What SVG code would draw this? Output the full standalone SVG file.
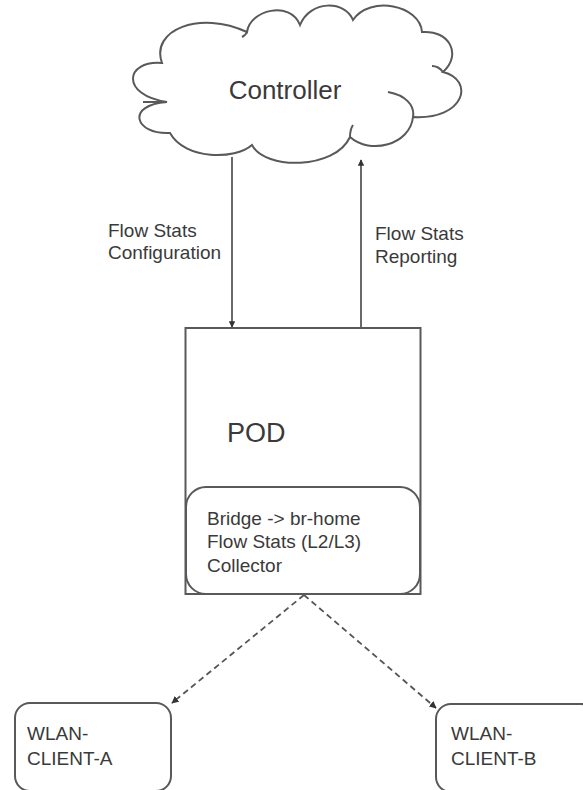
<svg xmlns="http://www.w3.org/2000/svg" width="583" height="790" viewBox="0 0 583 790">
<style>
.shape{fill:#fff;stroke:#595959;stroke-width:2}
.line{fill:none;stroke:#444;stroke-width:1.6}
.dash{fill:none;stroke:#555;stroke-width:1.8;stroke-dasharray:6 4}
.t{font-family:"Liberation Sans",Arial,sans-serif;fill:#3a3a3a;font-size:19px}
</style>
<defs>
<marker id="ah" viewBox="0 0 10 10" refX="9" refY="5" markerWidth="4" markerHeight="4" orient="auto" markerUnits="strokeWidth">
<path d="M0,0 L10,5 L0,10 z" fill="#333"/>
</marker>
</defs>
<rect width="583" height="790" fill="#fff"/>
<g id="controller">
<path class="shape" d="M 162,63 C 150,30 200,10 247,32 C 250,10 290,0 300,25 C 310,0 345,0 353,20 C 370,-5 420,5 422,32 C 450,30 462,55 443,72 C 475,80 465,120 413,117 C 410,145 370,155 350,137 C 335,170 265,170 252,145 C 235,160 185,160 170,133 C 135,135 125,105 167,102 C 120,95 125,60 162,63 Z"/>
<path class="shape" style="fill:none" d="M 388,92 C 405,95 415,105 413,117 M 143,102 L 167,102 M 443,72 C 440,68 436,66 432,66 M 350,137 C 350,132 351,128 353,125 M 247,32 C 246,35 244,36 242,37"/>
<text class="t" x="285" y="99" text-anchor="middle" style="font-size:26px">Controller</text>
</g>
<g id="pod">
<rect class="shape" x="185.5" y="328" width="235" height="266"/>
<rect class="shape" x="186" y="487" width="234" height="107" rx="20"/>
<text class="t" x="227" y="442" style="font-size:27px">POD</text>
<text class="t" x="207" y="525">Bridge -&gt; br-home</text>
<text class="t" x="207" y="548">Flow Stats (L2/L3)</text>
<text class="t" x="207" y="572">Collector</text>
</g>
<g id="client-a">
<rect class="shape" x="15" y="703" width="156" height="88" rx="15"/>
<text class="t" x="27" y="740">WLAN-</text>
<text class="t" x="27" y="765">CLIENT-A</text>
</g>
<g id="client-b">
<rect class="shape" x="436" y="704" width="160" height="88" rx="15"/>
<text class="t" x="451" y="740">WLAN-</text>
<text class="t" x="451" y="765">CLIENT-B</text>
</g>
<g id="connectors">
<line class="line" x1="232" y1="157" x2="232" y2="327" marker-end="url(#ah)"/>
<line class="line" x1="361" y1="327" x2="361" y2="160" marker-end="url(#ah)"/>
<line class="dash" x1="304" y1="595" x2="172" y2="703" marker-end="url(#ah)"/>
<line class="dash" x1="304" y1="595" x2="436" y2="708" marker-end="url(#ah)"/>
<text class="t" x="108" y="237">Flow Stats</text>
<text class="t" x="108" y="259">Configuration</text>
<text class="t" x="375" y="240">Flow Stats</text>
<text class="t" x="375" y="263">Reporting</text>
</g>
</svg>
